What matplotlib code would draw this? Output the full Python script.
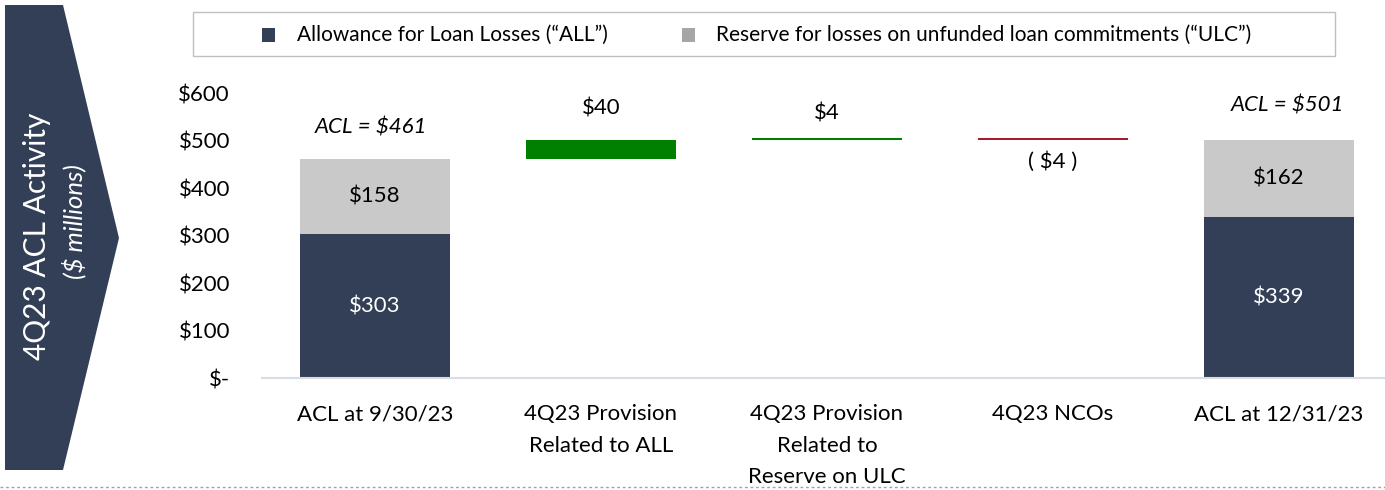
import matplotlib
matplotlib.use("Agg")
import matplotlib.pyplot as plt
from matplotlib.patches import Polygon, Rectangle
from matplotlib.lines import Line2D

plt.rcParams['font.family'] = ['Lato', 'DejaVu Sans']

# data ($ millions)
categories = ["ACL at 9/30/23", "4Q23 Provision\nRelated to ALL",
              "4Q23 Provision\nRelated to\nReserve on ULC", "4Q23 NCOs",
              "ACL at 12/31/23"]
all_values = [303, None, None, None, 339]
ulc_values = [158, None, None, None, 162]
changes = [None, 40, 4, -4, None]
change_labels = [None, "$40", "$4", "( $4 )", None]
totals = [461, None, None, None, 501]
yticks = [0, 100, 200, 300, 400, 500, 600]
ytick_labels = ["$-", "$100", "$200", "$300", "$400", "$500", "$600"]

NAVY = "#333F56"
LIGHT = "#C9C9C9"
LEG_GRAY = "#A6A6A6"
GREEN = "#008000"
RED = "#A6192E"
FS = 16

W, H = 1385, 490
fig = plt.figure(figsize=(W / 100, H / 100), dpi=100)

def fx(px):
    return px / W

def fy(py):
    return 1 - py / H

# chevron side panel
chev = Polygon([(fx(5), fy(5)), (fx(63), fy(5)), (fx(119), fy(238)),
                (fx(63), fy(470)), (fx(5), fy(470))], closed=True,
               transform=fig.transFigure, facecolor=NAVY, edgecolor="none")
fig.patches.append(chev)
fig.text(fx(37), fy(236), "4Q23 ACL Activity", rotation=90, color="white",
         fontsize=21.5, ha="center", va="center")
fig.text(fx(74), fy(222), "($ millions)", rotation=90, color="white",
         fontsize=18.5, style="italic", ha="center", va="center")

# legend box
fig.patches.append(Rectangle((fx(193), fy(56)), fx(1335 - 193), 44 / H,
                             transform=fig.transFigure, facecolor="white",
                             edgecolor="#BFBFBF", linewidth=1))
fig.patches.append(Rectangle((fx(262), fy(42)), fx(13), 14 / H,
                             transform=fig.transFigure, facecolor=NAVY))
fig.text(fx(297), fy(35), "Allowance for Loan Losses (\u201cALL\u201d)",
         fontsize=15, va="center", ha="left", color="black")
fig.patches.append(Rectangle((fx(682), fy(42)), fx(13), 14 / H,
                             transform=fig.transFigure, facecolor=LEG_GRAY))
fig.text(fx(716), fy(35),
         "Reserve for losses on unfunded loan commitments (\u201cULC\u201d)",
         fontsize=15, va="center", ha="left", color="black")

# dotted separator at the bottom
fig.add_artist(Line2D([0, 1], [fy(487), fy(487)], transform=fig.transFigure,
                      color="#A0A0A0", linestyle=(0, (2, 2)), linewidth=1))

# main axes
x0, x1 = 262, 1385
ax = fig.add_axes([fx(x0), fy(378), fx(x1 - x0), 285 / H])
ax.set_xlim(-0.5, 4.47)
ax.set_ylim(0, 600)
width = 0.665

running = None
for i, cat in enumerate(categories):
    if all_values[i] is not None:
        ax.bar(i, all_values[i], width=width, color=NAVY)
        ax.bar(i, ulc_values[i], bottom=all_values[i], width=width, color=LIGHT)
        ax.text(i, all_values[i] / 2, "$%d" % all_values[i], color="white",
                fontsize=FS, ha="center", va="center")
        ax.text(i, all_values[i] + ulc_values[i] / 2, "$%d" % ulc_values[i],
                color="black", fontsize=FS, ha="center", va="center")
        running = totals[i]
    else:
        c = changes[i]
        bottom = running if c > 0 else running + c
        col = GREEN if c > 0 else RED
        ax.bar(i, abs(c), bottom=bottom, width=width, color=col)
        if c > 0:
            off = 67 if c >= 10 else 52
            ax.text(i, running + c + off, change_labels[i], fontsize=FS,
                    ha="center", va="center")
        else:
            ax.text(i, running + c - 46, change_labels[i], fontsize=FS,
                    ha="center", va="center")
        running = running + c

ax.text(-0.02, 527, "ACL = $%d" % totals[0], fontsize=FS, style="italic",
        ha="center", va="center")
ax.text(4.04, 573, "ACL = $%d" % totals[4], fontsize=FS, style="italic",
        ha="center", va="center")

ax.set_xticks(range(len(categories)))
ax.set_xticklabels(categories, fontsize=FS, linespacing=1.7, va="top")
ax.set_yticks(yticks)
ax.set_yticklabels(ytick_labels, fontsize=FS)
ax.tick_params(axis="both", length=0)
ax.tick_params(axis="x", pad=19)
ax.tick_params(axis="y", pad=23)
for s in ["top", "right", "left"]:
    ax.spines[s].set_visible(False)
ax.spines["bottom"].set_color("#D9DDE6")
ax.spines["bottom"].set_linewidth(1.5)
ax.set_facecolor("none")

fig.savefig("out.png", dpi=100, facecolor="white")
